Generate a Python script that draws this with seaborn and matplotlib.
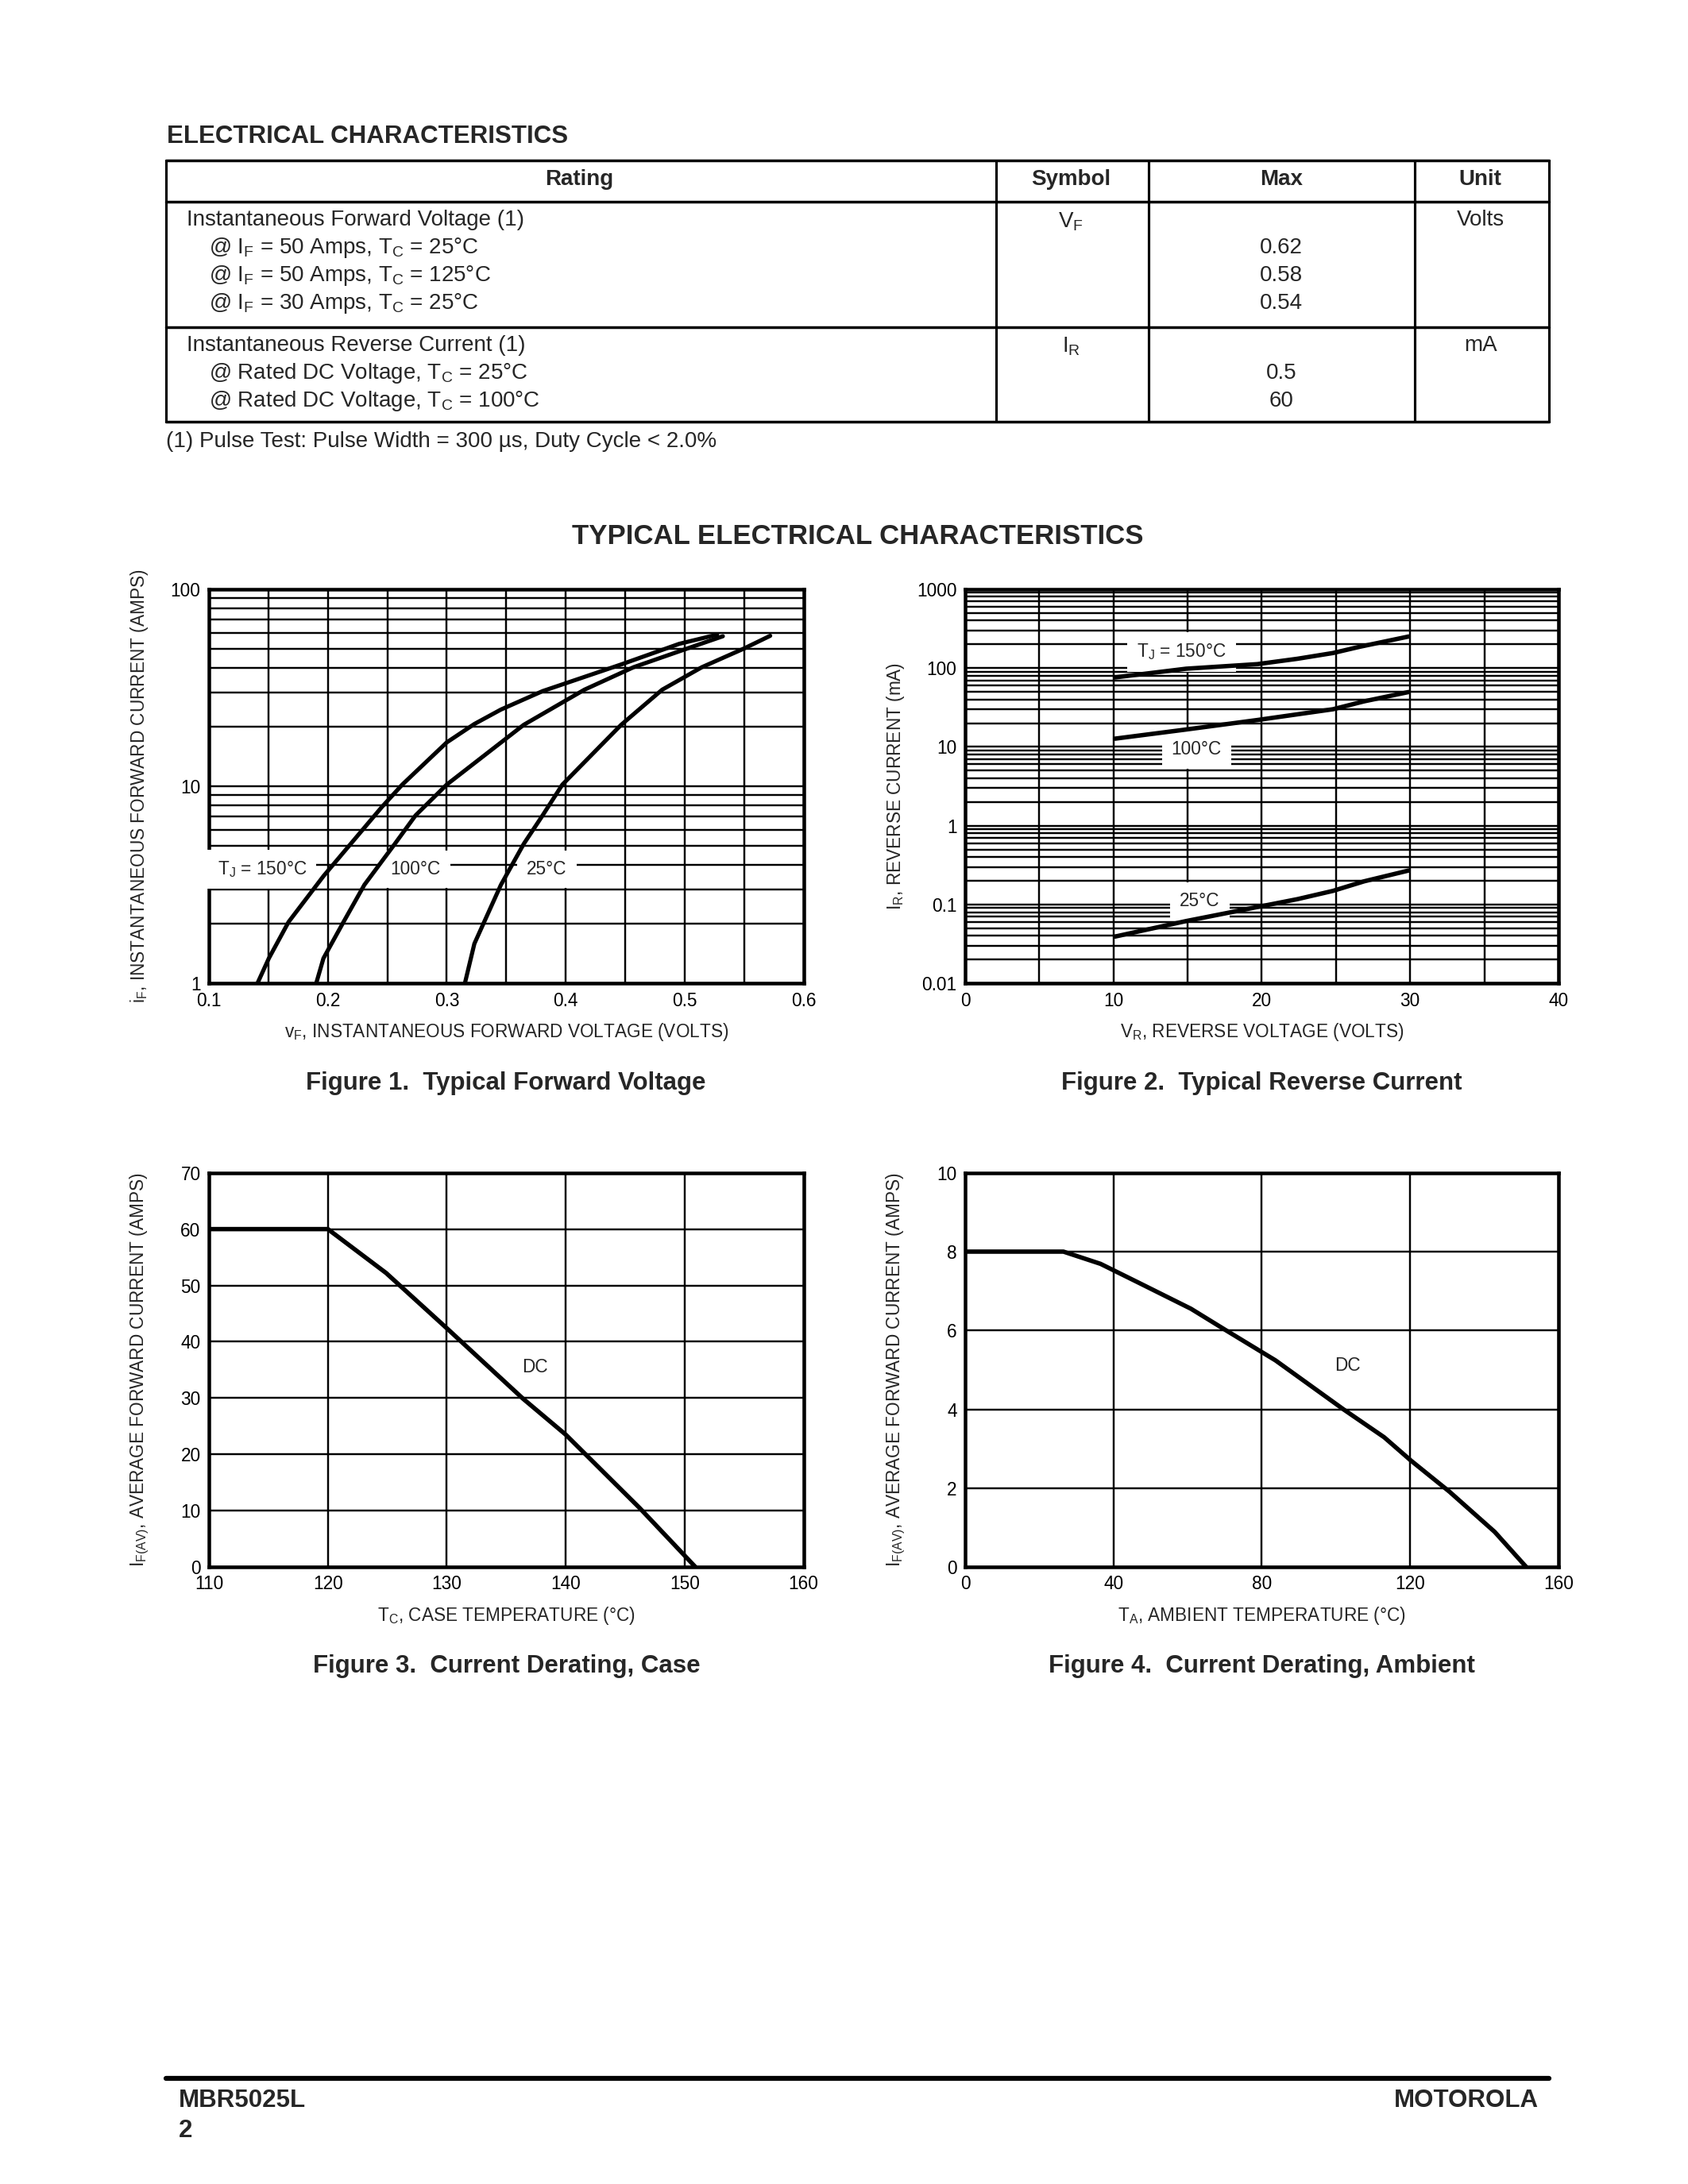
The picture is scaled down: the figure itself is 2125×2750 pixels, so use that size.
import numpy as np
import pandas as pd
import matplotlib
matplotlib.use('Agg')
import matplotlib.pyplot as plt
from matplotlib.ticker import FixedLocator, LogLocator, NullFormatter
import seaborn as sns

# ---- table data ----
table_header = ['Rating', 'Symbol', 'Max', 'Unit']
vf_rating = ['Instantaneous Forward Voltage (1)',
             '@ I$_F$ = 50 Amps, T$_C$ = 25°C',
             '@ I$_F$ = 50 Amps, T$_C$ = 125°C',
             '@ I$_F$ = 30 Amps, T$_C$ = 25°C']
vf_max = ['0.62', '0.58', '0.54']
ir_rating = ['Instantaneous Reverse Current (1)',
             '@ Rated DC Voltage, T$_C$ = 25°C',
             '@ Rated DC Voltage, T$_C$ = 100°C']
ir_max = ['0.5', '60']
footnote = '(1) Pulse Test: Pulse Width = 300 µs, Duty Cycle < 2.0%'

# ---- Figure 1: forward voltage curves ----
vf_150 = [0.1408, 0.1504, 0.167, 0.1963, 0.2451, 0.2626, 0.300, 0.3232, 0.3455, 0.3806,
          0.4466, 0.4954, 0.5273]
if_150 = [1.0, 1.34, 2.05, 3.5, 7.81, 10.2, 16.7, 20.7, 24.5, 30.4,
          41.5, 52.8, 58.8]
vf_100 = [0.1902, 0.1963, 0.2132, 0.2307, 0.2563, 0.2738, 0.300, 0.3647, 0.4157, 0.4571,
          0.5018, 0.5321]
if_100 = [1.0, 1.34, 2.05, 3.16, 5.10, 7.12, 10.2, 20.5, 30.9, 40.2,
          49.9, 57.7]
vf_25 = [0.3152, 0.3232, 0.3455, 0.3647, 0.3806, 0.3972, 0.4466, 0.4811, 0.5145, 0.5496, 0.5719]
if_25 = [1.0, 1.59, 3.16, 5.10, 7.12, 10.2, 20.5, 30.9, 40.2, 49.9, 58.0]
fig1_xticks = [0.1, 0.2, 0.3, 0.4, 0.5, 0.6]
fig1_xlabels = ['0.1', '0.2', '0.3', '0.4', '0.5', '0.6']
fig1_yticks = [1, 10, 100]
fig1_ylabels = ['1', '10', '100']

# ---- Figure 2: reverse current curves ----
vr_150 = [10.1, 14.9, 19.7, 22.4, 24.8, 26.6, 29.9]
ir_150 = [76, 98, 112, 131, 155, 186, 251]
vr_100 = [10.1, 14.9, 19.7, 24.8, 26.9, 29.9]
ir_100 = [12.7, 16.6, 21.9, 30.0, 37.8, 49.6]
vr_25 = [10.1, 14.9, 19.7, 22.4, 24.8, 26.9, 29.9]
ir_25 = [0.0392, 0.0617, 0.093, 0.117, 0.149, 0.197, 0.27]
fig2_xticks = [0, 10, 20, 30, 40]
fig2_yticks = [0.01, 0.1, 1, 10, 100, 1000]
fig2_ylabels = ['0.01', '0.1', '1', '10', '100', '1000']

# ---- Figure 3: derating vs case temperature ----
tc = [110, 120, 124.9, 130.1, 136.4, 140, 146.2, 150.9]
if_case = [60, 60, 52.2, 42.2, 29.9, 23.5, 10.5, 0]
fig3_xticks = [110, 120, 130, 140, 150, 160]
fig3_yticks = [0, 10, 20, 30, 40, 50, 60, 70]

# ---- Figure 4: derating vs ambient temperature ----
ta = [0, 26.5, 36.5, 46.6, 60.9, 70.4, 83.7, 102, 113, 120.2, 130.6, 142.8, 151.3]
if_amb = [8, 8, 7.69, 7.22, 6.55, 6.0, 5.24, 4.0, 3.29, 2.7, 1.91, 0.89, 0]
fig4_xticks = [0, 40, 80, 120, 160]
fig4_yticks = [0, 2, 4, 6, 8, 10]

sns.set_theme(style='white')
plt.rcParams['font.family'] = ['Liberation Sans', 'DejaVu Sans']
plt.rcParams['mathtext.default'] = 'regular'

W, H = 1212, 1568  # layout grid of the page


def rect(l, t, r, b):
    return [l / W, 1 - b / H, (r - l) / W, (b - t) / H]


def style(ax):
    for s in ax.spines.values():
        s.set_linewidth(1.3)
        s.set_color('black')
    ax.set_axisbelow(True)
    ax.tick_params(which='both', length=0, labelsize=6.5, pad=3, colors='black')
    ax.grid(which='both', color='black', linewidth=0.7)
    for ln in ax.lines:
        ln.set_zorder(4)
        ln.set_solid_capstyle('round')
        ln.set_solid_joinstyle('round')


def labels(ax, xl, yl):
    ax.set_xlabel(xl, fontsize=6.5, va='center')
    ax.xaxis.set_label_coords(0.5, -0.124)
    ax.set_ylabel(yl, fontsize=6.5, va='center')
    ax.yaxis.set_label_coords(-0.117, 0.5)


fig = plt.figure(figsize=(8.5, 11), dpi=250)

page = fig.add_axes([0, 0, 1, 1])
page.set_xlim(0, W)
page.set_ylim(H, 0)
page.axis('off')

# electrical characteristics table
page.text(120, 98, 'ELECTRICAL CHARACTERISTICS', fontsize=9, fontweight='bold', va='center')
for y in [115, 145, 235, 303]:
    page.plot([119, 1112], [y, y], color='black', lw=1.0)
for x in [119, 715, 825, 1016, 1112]:
    page.plot([x, x], [115, 303], color='black', lw=0.9)
for x, txt in zip([416, 769, 920, 1063], table_header):
    page.text(x, 129, txt, fontsize=8, fontweight='bold', ha='center', va='center')

for i, txt in enumerate(vf_rating):
    page.text(134 if i == 0 else 150, 158 + 20 * i, txt, fontsize=8, va='center')
page.text(769, 159, 'V$_F$', fontsize=8, ha='center', va='center')
for i, txt in enumerate(vf_max):
    page.text(920, 178 + 20 * i, txt, fontsize=8, ha='center', va='center')
page.text(1063, 158, 'Volts', fontsize=8, ha='center', va='center')

for i, txt in enumerate(ir_rating):
    page.text(134 if i == 0 else 150, 248 + 20 * i, txt, fontsize=8, va='center')
page.text(769, 249, 'I$_R$', fontsize=8, ha='center', va='center')
for i, txt in enumerate(ir_max):
    page.text(920, 268 + 20 * i, txt, fontsize=8, ha='center', va='center')
page.text(1063, 248, 'mA', fontsize=8, ha='center', va='center')
page.text(119, 317, footnote, fontsize=8, va='center')

page.text(616, 385, 'TYPICAL ELECTRICAL CHARACTERISTICS', fontsize=10, fontweight='bold',
          ha='center', va='center')

black3 = {'150': 'black', '100': 'black', '25': 'black'}
box = dict(facecolor='white', edgecolor='none', pad=3.5)

# Figure 1
ax1 = fig.add_axes(rect(150, 423, 577, 706))
df1 = pd.DataFrame({
    'vf': vf_150 + vf_100 + vf_25,
    'if': if_150 + if_100 + if_25,
    'tj': ['150'] * len(vf_150) + ['100'] * len(vf_100) + ['25'] * len(vf_25),
})
sns.lineplot(data=df1, x='vf', y='if', hue='tj', palette=black3,
             estimator=None, sort=False, legend=False, linewidth=1.5, ax=ax1)
ax1.set_yscale('log')
ax1.set_xlim(0.1, 0.6)
ax1.set_ylim(1, 100)
ax1.set_xticks(fig1_xticks)
ax1.set_xticklabels(fig1_xlabels)
ax1.xaxis.set_minor_locator(FixedLocator(np.arange(0.15, 0.6, 0.1)))
ax1.set_yticks(fig1_yticks)
ax1.set_yticklabels(fig1_ylabels)
ax1.yaxis.set_minor_locator(LogLocator(base=10, subs=range(2, 10)))
ax1.yaxis.set_minor_formatter(NullFormatter())
style(ax1)
ax1.text(0.1447, 3.8, 'T$_J$ = 150°C', fontsize=6.5, ha='center', va='center', bbox=box, zorder=3)
ax1.text(0.2736, 3.8, '100°C', fontsize=6.5, ha='center', va='center', bbox=box, zorder=3)
ax1.text(0.384, 3.8, '25°C', fontsize=6.5, ha='center', va='center', bbox=box, zorder=3)
labels(ax1, 'v$_F$, INSTANTANEOUS FORWARD VOLTAGE (VOLTS)', 'i$_F$, INSTANTANEOUS FORWARD CURRENT (AMPS)')

# Figure 2
ax2 = fig.add_axes(rect(693, 423, 1119, 706))
df2 = pd.DataFrame({
    'vr': vr_150 + vr_100 + vr_25,
    'ir': ir_150 + ir_100 + ir_25,
    'tj': ['150'] * len(vr_150) + ['100'] * len(vr_100) + ['25'] * len(vr_25),
})
sns.lineplot(data=df2, x='vr', y='ir', hue='tj', palette=black3,
             estimator=None, sort=False, legend=False, linewidth=1.6, ax=ax2)
ax2.set_yscale('log')
ax2.set_xlim(0, 40)
ax2.set_ylim(0.01, 1000)
ax2.set_xticks(fig2_xticks)
ax2.xaxis.set_minor_locator(FixedLocator(np.arange(5, 40, 10)))
ax2.set_yticks(fig2_yticks)
ax2.set_yticklabels(fig2_ylabels)
ax2.yaxis.set_minor_locator(LogLocator(base=10, subs=range(2, 10), numticks=20))
ax2.yaxis.set_minor_formatter(NullFormatter())
style(ax2)
ax2.text(14.6, 160, 'T$_J$ = 150°C', fontsize=6.5, ha='center', va='center', bbox=box, zorder=3)
ax2.text(15.6, 9.2, '100°C', fontsize=6.5, ha='center', va='center', bbox=box, zorder=3)
ax2.text(15.8, 0.111, '25°C', fontsize=6.5, ha='center', va='center', bbox=box, zorder=3)
labels(ax2, 'V$_R$, REVERSE VOLTAGE (VOLTS)', 'I$_R$, REVERSE CURRENT (mA)')

# Figure 3
ax3 = fig.add_axes(rect(150, 842, 577, 1125))
sns.lineplot(x=tc, y=if_case, color='black', estimator=None, sort=False, linewidth=1.6, ax=ax3)
ax3.set_xlim(110, 160)
ax3.set_ylim(0, 70)
ax3.set_xticks(fig3_xticks)
ax3.set_yticks(fig3_yticks)
style(ax3)
ax3.text(137.4, 35.5, 'DC', fontsize=6.5, ha='center', va='center')
labels(ax3, 'T$_C$, CASE TEMPERATURE (°C)', 'I$_{F(AV)}$, AVERAGE FORWARD CURRENT (AMPS)')

# Figure 4
ax4 = fig.add_axes(rect(693, 842, 1119, 1125))
sns.lineplot(x=ta, y=if_amb, color='black', estimator=None, sort=False, linewidth=1.6, ax=ax4)
ax4.set_xlim(0, 160)
ax4.set_ylim(0, 10)
ax4.set_xticks(fig4_xticks)
ax4.set_yticks(fig4_yticks)
style(ax4)
ax4.text(103.2, 5.1, 'DC', fontsize=6.5, ha='center', va='center')
labels(ax4, 'T$_A$, AMBIENT TEMPERATURE (°C)', 'I$_{F(AV)}$, AVERAGE FORWARD CURRENT (AMPS)')

# captions
page.text(363, 778, 'Figure 1.  Typical Forward Voltage', fontsize=9, fontweight='bold', ha='center', va='center')
page.text(906, 778, 'Figure 2.  Typical Reverse Current', fontsize=9, fontweight='bold', ha='center', va='center')
page.text(364, 1196, 'Figure 3.  Current Derating, Case', fontsize=9, fontweight='bold', ha='center', va='center')
page.text(906, 1196, 'Figure 4.  Current Derating, Ambient', fontsize=9, fontweight='bold', ha='center', va='center')

# footer
page.plot([119, 1112], [1492, 1492], color='black', lw=1.8)
page.text(128, 1508, 'MBR5025L', fontsize=9, fontweight='bold', va='center')
page.text(128, 1530, '2', fontsize=9, fontweight='bold', va='center')
page.text(1105, 1508, 'MOTOROLA', fontsize=9, fontweight='bold', ha='right', va='center')

fig.savefig('out.png', dpi=250, facecolor='white')
